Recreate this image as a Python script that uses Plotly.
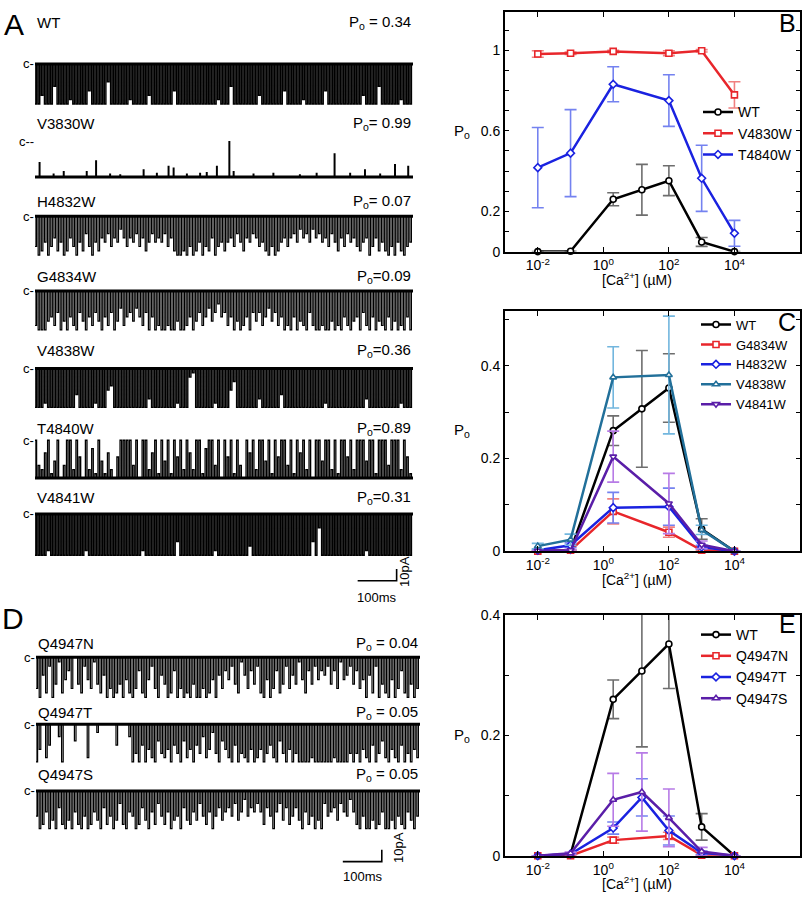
import plotly.graph_objects as go

W, H = 805, 906
FONT = "Liberation Sans, Arial, Helvetica, sans-serif"

# ---------------- dose-response data ----------------
conc7 = [0.01, 0.1, 2, 15, 100, 1000, 10000]
conc6 = [0.01, 0.1, 2, 100, 1000, 10000]

wt_po = [0.0, 0.002, 0.260, 0.307, 0.352, 0.048, 0.0]
wt_err = [0.0, 0.0, 0.032, 0.126, 0.074, 0.022, 0.0]

# panel B
v4830w_po = [0.981, 0.985, 0.994, 0.985, 0.997, 0.778]
v4830w_err = [0.016, 0.006, 0.006, 0.012, 0.006, 0.065]
t4840w_po = [0.417, 0.489, 0.831, 0.750, 0.364, 0.091]
t4840w_err = [0.199, 0.216, 0.087, 0.128, 0.164, 0.064]

# panel C
g4834w_po = [0.0, 0.002, 0.086, 0.041, 0.002, 0.0]
g4834w_err = [0.0, 0.0, 0.027, 0.011, 0.0, 0.0]
h4832w_po = [0.002, 0.013, 0.094, 0.096, 0.009, 0.0]
h4832w_err = [0.002, 0.005, 0.033, 0.040, 0.004, 0.0]
v4838w_po = [0.011, 0.025, 0.375, 0.380, 0.046, 0.0]
v4838w_err = [0.006, 0.012, 0.066, 0.127, 0.010, 0.0]
v4841w_po = [0.001, 0.002, 0.204, 0.103, 0.014, 0.0]
v4841w_err = [0.0, 0.002, 0.055, 0.065, 0.008, 0.0]

# panel E
q4947n_po = [0.0, 0.0, 0.026, 0.033, 0.001, 0.0]
q4947n_err = [0.0, 0.0, 0.005, 0.006, 0.0, 0.0]
q4947t_po = [0.0, 0.003, 0.046, 0.097, 0.042, 0.005, 0.0]
q4947t_err = [0.0, 0.0, 0.010, 0.031, 0.024, 0.003, 0.0]
q4947s_po = [0.0, 0.004, 0.093, 0.106, 0.063, 0.007, 0.0]
q4947s_err = [0.0, 0.002, 0.044, 0.065, 0.048, 0.007, 0.0]

x_tick_vals = [0.01, 1, 100, 10000]
x_tick_text = ["10<sup>-2</sup>", "10<sup>0</sup>", "10<sup>2</sup>", "10<sup>4</sup>"]

# ---------------- single-channel records ----------------
# depth of each opening (0 = stays closed, 9 = full open level), 120 bins per record
wt_trace = [9,9,7,9,9,9,5,9,9,9, 9,8,9,9,9,9,9,6,9,9, 9,9,9,4,9,9,9,9,9,9, 8,9,9,9,9,9,7,9,9,9,
            9,9,9,9,6,9,9,9,9,9, 9,9,9,9,9,9,9,9,8,9, 9,9,5,9,9,9,9,9,9,9, 9,7,9,9,9,9,9,9,9,6,
            9,9,9,9,9,8,9,9,9,9, 9,9,6,9,9,9,9,9,9,9, 9,9,9,9,7,9,9,9,9,5, 9,9,9,9,9,9,8,9,9,9]
h4832w_trace = [7,9,8,6,9,7,5,8,6,9, 8,5,7,9,6,8,4,7,9,6, 8,5,6,4,7,5,6,3,5,7, 5,6,4,7,5,8,6,4,6,5,
                6,4,7,5,8,9,9,8,9,7, 9,8,6,9,7,8,5,9,7,6, 8,6,5,7,4,6,8,5,6,4, 5,7,6,8,9,7,9,8,6,5,
                7,5,4,6,3,5,4,6,3,5, 4,6,5,7,4,6,8,5,7,4, 6,5,7,8,6,5,9,7,5,8, 6,8,9,7,9,6,8,9,7,6]
g4834w_trace = [8,9,9,9,7,6,8,5,9,7, 9,6,8,9,5,7,9,6,8,5, 7,9,6,8,5,9,7,4,8,6, 5,7,4,6,8,5,9,6,9,8,
                9,9,8,9,9,7,9,9,8,6, 9,7,5,8,6,4,7,5,3,6, 5,8,6,9,7,9,8,6,9,5, 7,5,8,6,4,7,5,8,6,9,
                8,9,6,9,7,8,9,5,8,9, 9,8,9,9,7,9,8,9,6,8, 9,7,6,9,5,8,9,6,9,7, 8,9,6,9,7,9,8,9,6,9]
v4838w_trace = [9,9,9,8,9,9,9,9,9,9, 9,9,9,6,9,9,9,9,9,8, 9,9,9,5,4,9,9,9,9,9, 9,9,9,9,9,9,7,9,9,9,
                9,9,9,9,9,8,9,9,9,2, 1,9,9,9,9,9,9,8,9,9, 9,9,5,3,9,9,9,9,9,9, 9,7,9,9,9,9,9,9,6,9,
                9,9,9,9,9,9,9,9,9,9, 9,9,8,9,9,9,9,9,9,9, 9,9,9,9,9,7,9,9,9,9, 9,9,9,9,9,9,8,9,9,9]
v4841w_trace = [9,9,9,9,8,9,9,9,9,9, 9,9,9,9,9,9,8,9,9,9, 9,9,9,9,9,9,9,9,9,9, 9,9,9,9,8,9,9,9,9,9,
                9,9,9,9,9,6,9,9,9,9, 9,9,9,9,9,9,9,8,9,9, 9,9,9,9,9,9,9,9,7,9, 9,9,9,9,9,9,9,9,9,9,
                9,9,9,9,9,9,9,9,6,9, 3,9,9,9,9,9,9,9,9,9, 9,9,9,9,9,8,9,9,9,9, 9,9,9,9,9,9,9,9,9,9]
# mostly-open record: height of closing events above the open level
t4840w_trace = [9,3,2,6,9,1,4,9,0,3, 9,9,2,9,5,0,9,2,7,1, 9,4,1,6,2,0,5,9,9,9, 9,3,9,0,9,9,2,6,9,1,
                9,4,9,1,9,5,9,2,9,6, 2,9,9,1,7,9,9,3,9,0, 9,5,9,1,9,3,0,9,6,9, 2,9,9,4,9,1,9,5,9,9,
                3,9,1,9,6,9,2,9,0,9, 9,4,9,9,2,9,1,9,9,5, 9,2,9,9,9,4,9,9,1,9, 9,9,3,9,9,9,2,9,5,1]
# V3830W: rare brief closings (time in ms, fraction of full amplitude)
v3830w_event_ms = [11, 47, 73, 132, 156, 192, 218, 278, 312, 342, 355, 389, 423, 440, 466, 498, 509,
                   560, 611, 679, 722, 768, 808, 846, 885, 923, 957]
v3830w_event_frac = [0.40, 0.08, 0.15, 0.15, 0.45, 0.08, 0.06, 0.20, 0.10, 0.30, 0.25, 0.08, 0.10, 0.12,
                     0.30, 1.00, 0.15, 0.08, 0.10, 0.06, 0.10, 0.65, 0.10, 0.20, 0.08, 0.35, 0.30]
q4947n_trace = [7,9,4,8,2,9,6,1,8,5, 3,7,0,6,8,2,5,7,1,6, 8,4,9,7,9,8,6,9,5,8, 9,7,3,8,9,5,2,7,9,4,
                6,9,8,3,9,7,9,8,9,6, 9,9,7,9,8,5,9,4,7,3, 5,2,6,8,1,4,7,3,6,2, 8,9,5,9,7,3,8,6,2,7,
                4,6,1,5,8,3,6,2,5,3, 4,2,6,3,7,1,5,4,2,6, 3,7,5,9,4,8,2,9,6,8, 9,5,9,7,3,8,9,6,9,7]
q4947t_trace = [9,6,0,8,5,0,0,3,9,0, 0,0,4,0,0,0,8,0,0,2, 0,0,0,0,0,5,0,0,0,3, 9,7,9,5,9,6,8,9,4,7,
                8,6,9,5,7,9,4,8,6,9, 5,7,3,8,6,2,7,9,4,6, 8,9,5,9,7,8,9,6,9,8, 6,9,7,5,8,9,4,7,9,6,
                9,7,9,9,9,9,8,9,9,9, 9,9,9,8,9,9,9,9,7,9, 7,9,6,8,9,5,9,7,4,8, 9,6,8,9,5,9,7,9,6,8]
q4947s_trace = [6,9,8,5,9,7,9,4,8,9, 7,9,5,8,9,6,9,8,5,7, 9,4,8,6,9,7,3,8,9,5, 6,9,8,4,7,9,5,8,3,6,
                8,5,9,7,6,9,4,7,8,5, 7,3,6,8,5,9,6,4,7,5, 4,6,3,7,5,2,6,4,5,3, 5,8,4,6,9,5,3,7,4,8,
                6,4,7,9,5,8,6,9,7,9, 3,6,5,4,7,3,5,6,2,5, 8,9,6,9,9,7,9,8,5,9, 9,7,9,6,8,9,5,7,9,6]

# name, Po text, amplitude (pA), depth record, kind
records_a = [
    ("WT", "P<sub>o</sub> = 0.34", 34, wt_trace, "down"),
    ("V3830W", "P<sub>o</sub>= 0.99", 30, None, "events"),
    ("H4832W", "P<sub>o</sub>= 0.07", 33, h4832w_trace, "down"),
    ("G4834W", "P<sub>o</sub>=0.09", 33, g4834w_trace, "down"),
    ("V4838W", "P<sub>o</sub>=0.36", 33, v4838w_trace, "down"),
    ("T4840W", "P<sub>o</sub>=0.89", 32, t4840w_trace, "up"),
    ("V4841W", "P<sub>o</sub>=0.31", 35, v4841w_trace, "down"),
]
records_d = [
    ("Q4947N", "P<sub>o</sub> = 0.04", 34, q4947n_trace, "down"),
    ("Q4947T", "P<sub>o</sub> = 0.05", 32, q4947t_trace, "down"),
    ("Q4947S", "P<sub>o</sub> = 0.05", 32, q4947s_trace, "down"),
]
duration_a_ms = 970
duration_d_ms = 985
scale_ms = 100
scale_pA = 10

# ---------------- layout geometry / styles (pixels) ----------------
PX_PER_PA = 1.2
a_closed_px = [57, 136, 212, 288, 367, 440, 515]
a_label_px = [15, 118, 197, 273, 349, 428, 498]
d_closed_px = [661, 729, 797]
d_label_px = [647, 717, 780]
A_X = (35, 413)
D_X = (36, 420)
trace_width = {"WT": 1.45, "V4838W": 1.4, "V4841W": 1.45, "T4840W": 1.3}

fig = go.Figure()
axes = {}
annotations = []
counter = [0]


def new_axes(xd, yd):
    counter[0] += 1
    n = counter[0]
    s = "" if n == 1 else str(n)
    xd = dict(xd, anchor="y" + s)
    yd = dict(yd, anchor="x" + s)
    axes["xaxis" + s] = xd
    axes["yaxis" + s] = yd
    return "x" + s, "y" + s


def dx(a, b):
    return [a / W, b / W]


def dy(top, bottom):
    return [1 - bottom / H, 1 - top / H]


def text(x, y, t, size=15, xanchor="center", yanchor="middle", angle=0):
    annotations.append(dict(x=x / W, y=1 - y / H, xref="paper", yref="paper", text=t,
                            showarrow=False, xanchor=xanchor, yanchor=yanchor, textangle=angle,
                            font=dict(family=FONT, size=size, color="black")))


# ---------------- dose-response panels ----------------
def dose_axes(top, bottom, ymax, yvals, ytext):
    common = dict(showline=True, linewidth=2, linecolor="black", mirror="ticks", ticks="inside",
                  tickcolor="black", tickwidth=1.2, showgrid=False, zeroline=False,
                  tickfont=dict(family=FONT, size=14, color="black"))
    xd = dict(common, domain=dx(505, 800), type="log", range=[-3, 6], tickvals=x_tick_vals,
              ticktext=x_tick_text, ticklen=5)
    yd = dict(common, domain=dy(top, bottom), range=[0, ymax], tickvals=yvals, ticktext=ytext, ticklen=4)
    return new_axes(xd, yd)


def series(ax, x, y, err, name, color, ecolor, symbol, legend):
    fig.add_trace(go.Scatter(
        x=x, y=y, name=name, mode="lines+markers", xaxis=ax[0], yaxis=ax[1], legend=legend,
        line=dict(color=color, width=2.5),
        marker=dict(symbol=symbol, size=6, color="white", line=dict(color=color, width=1.6)),
        error_y=dict(type="data", array=err, color=ecolor, thickness=1.6, width=6),
        cliponaxis=False))


BLACK, GRAY = "#000000", "#6e6e6e"
RED, RED_E = "#e8262b", "#f08080"
BLUE, BLUE_E = "#1a22e0", "#7482f0"
TEAL, TEAL_E = "#22709a", "#72b6de"
PURP, PURP_E = "#5a1ea8", "#b77be6"

axB = dose_axes(4, 248, 1.19, [0, .1, .2, .3, .4, .5, .6, .7, .8, .9, 1, 1.1],
                ["0", "", "0.2", "", "", "", "0.6", "", "", "", "1", ""])
series(axB, conc7, wt_po, wt_err, "WT", BLACK, GRAY, "circle", "legend")
series(axB, conc6, v4830w_po, v4830w_err, "V4830W", RED, RED_E, "square", "legend")
series(axB, conc6, t4840w_po, t4840w_err, "T4840W", BLUE, BLUE_E, "diamond", "legend")

axC = dose_axes(308, 553, 0.519, [0, .1, .2, .3, .4, .5], ["0", "", "0.2", "", "0.4", ""])
series(axC, conc7, wt_po, wt_err, "WT", BLACK, GRAY, "circle", "legend2")
series(axC, conc6, g4834w_po, g4834w_err, "G4834W", RED, RED_E, "square", "legend2")
series(axC, conc6, h4832w_po, h4832w_err, "H4832W", BLUE, BLUE_E, "diamond", "legend2")
series(axC, conc6, v4838w_po, v4838w_err, "V4838W", TEAL, TEAL_E, "triangle-up", "legend2")
series(axC, conc6, v4841w_po, v4841w_err, "V4841W", PURP, PURP_E, "triangle-down", "legend2")

axE = dose_axes(618, 863, 0.4, [0, .1, .2, .3, .4], ["0", "", "0.2", "", "0.4"])
series(axE, conc7, wt_po, wt_err, "WT", BLACK, GRAY, "circle", "legend3")
series(axE, conc6, q4947n_po, q4947n_err, "Q4947N", RED, RED_E, "square", "legend3")
series(axE, conc7, q4947t_po, q4947t_err, "Q4947T", BLUE, BLUE_E, "diamond", "legend3")
series(axE, conc7, q4947s_po, q4947s_err, "Q4947S", PURP, PURP_E, "triangle-up", "legend3")

for top, bottom in [(4, 248), (308, 553), (618, 863)]:
    text(462, (top + bottom) / 2, "P<sub>o</sub>", size=15)
    text(637, bottom + 28, "[Ca<sup>2+</sup>] (µM)", size=14)

# ---------------- single-channel records ----------------
def record_xy(depths, total_ms, amp, up):
    n = len(depths)
    step = total_ms / n
    w = step * 0.5
    base = -amp if up else 0.0
    xs, ys = [], []
    for i, d in enumerate(depths):
        lvl = (-amp + amp * d / 9) if up else (-amp * d / 9)
        x0 = i * step
        xs += [x0, x0, x0 + w, x0 + w]
        ys += [base, lvl, lvl, base]
    xs.append(total_ms)
    ys.append(base)
    return xs, ys


def events_xy(t_ms, frac, total_ms, amp):
    xs, ys = [0.0], [-amp]
    for t, f in zip(t_ms, frac):
        xs += [t, t, t + 1.5, t + 1.5]
        ys += [-amp, -amp + amp * f, -amp + amp * f, -amp]
    xs.append(total_ms)
    ys.append(-amp)
    return xs, ys


def draw_records(records, closed_px, label_px, xpx, total_ms):
    for (name, po, amp, depths, kind), cpx, lpx in zip(records, closed_px, label_px):
        pad = 4
        top = cpx - pad
        bottom = cpx + amp * PX_PER_PA + pad
        xd = dict(domain=dx(*xpx), range=[0, total_ms], visible=False, fixedrange=True)
        yd = dict(domain=dy(top, bottom), range=[-(bottom - cpx) / PX_PER_PA, pad / PX_PER_PA],
                  visible=False, fixedrange=True)
        ax = new_axes(xd, yd)
        base = -amp if kind in ("events", "up") else 0.0
        if kind == "events":
            xs, ys = events_xy(v3830w_event_ms, v3830w_event_frac, total_ms, amp)
            lw = 1.4
        else:
            xs, ys = record_xy(depths, total_ms, amp, kind == "up")
            lw = trace_width.get(name, 1.2)
        # baseline (noisy resting level drawn as a thick line)
        fig.add_trace(go.Scatter(x=[0, total_ms], y=[base, base], mode="lines", xaxis=ax[0],
                                 yaxis=ax[1], line=dict(color="black", width=3),
                                 showlegend=False, hoverinfo="skip"))
        fig.add_trace(go.Scatter(x=xs, y=ys, mode="lines", xaxis=ax[0], yaxis=ax[1],
                                 line=dict(color="black", width=lw), showlegend=False,
                                 hoverinfo="skip"))
        text(xpx[0], lpx, name, size=15, xanchor="left")
        text(xpx[1], lpx, po, size=15, xanchor="right")
        text(xpx[0] + 1, cpx, "c--" if kind == "events" else "c-", size=13, xanchor="right")


draw_records(records_a, a_closed_px, a_label_px, A_X, duration_a_ms)
draw_records(records_d, d_closed_px, d_label_px, D_X, duration_d_ms)


def scale_bar(xpx, total_ms, bar_bottom_px, bar_right_ms):
    top = bar_bottom_px - 20
    bottom = bar_bottom_px + 2
    xd = dict(domain=dx(*xpx), range=[0, total_ms], visible=False, fixedrange=True)
    yd = dict(domain=dy(top, bottom), range=[-2 / PX_PER_PA, 20 / PX_PER_PA], visible=False,
              fixedrange=True)
    ax = new_axes(xd, yd)
    fig.add_trace(go.Scatter(x=[bar_right_ms - scale_ms, bar_right_ms, bar_right_ms],
                             y=[0, 0, scale_pA], mode="lines", xaxis=ax[0], yaxis=ax[1],
                             line=dict(color="black", width=1.6), showlegend=False,
                             hoverinfo="skip"))


scale_bar(A_X, duration_a_ms, 583, 928)
text(377, 600, "100ms", size=13)
text(405, 573, "10pA", size=13, angle=-90)
scale_bar(D_X, duration_d_ms, 869, 887)
text(363, 884, "100ms", size=13)
text(399, 855, "10pA", size=13, angle=-90)

# panel letters
text(2, 17, "A", size=30, xanchor="left")
text(0, 621, "D", size=30, xanchor="left")
text(787, 15, "B", size=25)
text(787, 320, "C", size=25)
text(787, 627, "E", size=25)

legend_common = dict(xanchor="left", yanchor="top", bgcolor="rgba(0,0,0,0)", itemwidth=30,
                     tracegroupgap=0)

fig.update_layout(
    width=W, height=H, autosize=False,
    margin=dict(l=0, r=0, t=0, b=0),
    paper_bgcolor="white", plot_bgcolor="white",
    showlegend=True,
    legend=dict(legend_common, x=698 / W, y=1 - 90 / H,
                font=dict(family=FONT, size=14, color="black")),
    legend2=dict(legend_common, x=696 / W, y=1 - 307 / H,
                 font=dict(family=FONT, size=13, color="black")),
    legend3=dict(legend_common, x=696 / W, y=1 - 622 / H,
                 font=dict(family=FONT, size=14, color="black")),
    annotations=annotations,
    **axes,
)

fig.write_html("out.html", config={"displayModeBar": False},
               post_script="document.body.style.margin='0';")
